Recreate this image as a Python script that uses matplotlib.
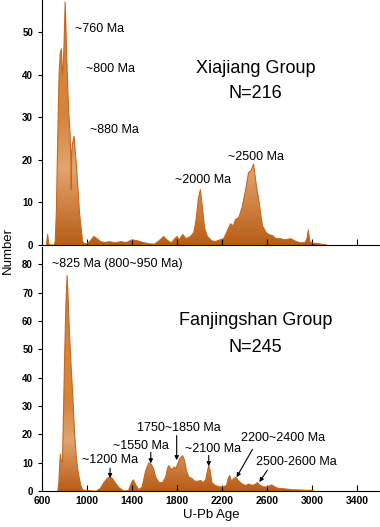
import numpy as np
import matplotlib.pyplot as plt
from matplotlib.colors import LinearSegmentedColormap

plt.rcParams['font.family'] = ['Liberation Sans', 'DejaVu Sans']

# Xiajiang Group probability curve (age Ma, number)
xj_age = [640, 650, 660, 670, 710, 718, 728, 740, 752, 762, 772, 780, 788, 796, 806, 812, 820, 830, 840,
          850, 856, 860, 864, 872, 886, 895, 905, 915, 925, 935, 948, 960, 975, 1000, 1030, 1060, 1090, 1120,
          1160, 1200, 1250, 1300, 1350, 1400, 1450, 1500, 1550, 1600, 1640, 1680, 1720, 1750, 1780, 1800,
          1820, 1850, 1880, 1920, 1950, 1970, 1990, 2008, 2025, 2045, 2070, 2110, 2140, 2180, 2215, 2250,
          2276, 2300, 2320, 2350, 2380, 2410, 2436, 2460, 2480, 2495, 2510, 2525, 2545, 2560, 2590, 2612,
          2650, 2680, 2720, 2760, 2810, 2860, 2900, 2940, 2955, 2967, 2980, 3000, 3060, 3130]
xj_num = [0, 2.5, 0.3, 0, 0, 1, 8, 25, 40, 45, 46, 40, 42, 47, 57, 52, 44, 36, 30,
          26, 20, 13, 22, 24, 25.5, 22, 19, 15, 11, 7, 4, 1, 0.3, 0.3, 1, 2, 1.5, 0.8,
          0.6, 0.8, 0.5, 0.8, 0.6, 1.2, 1.0, 0.6, 0.3, 0.2, 1, 2, 1, 0.5, 1.5, 2.0,
          1.2, 2.5, 1.5, 2, 3, 6, 11, 13, 9, 4, 2, 1, 0.8, 1.2, 1.5, 3.5,
          5, 4.5, 6, 6.5, 9, 13, 17, 17.5, 19, 16, 13, 11, 7, 4.5, 3, 2.5,
          2.2, 1.5, 1.5, 1.2, 1.5, 0.8, 0.5, 0.6, 1.5, 3.5, 0.8, 0.5, 0.3, 0]

# Fanjingshan Group probability curve
fj_age = [740, 750, 758, 764, 770, 782, 790, 800, 812, 823, 830, 845, 860, 873, 890, 905, 920, 930, 945,
          960, 980, 1000, 1040, 1080, 1120, 1150, 1180, 1205, 1225, 1250, 1290, 1330, 1370, 1395,
          1412, 1430, 1460, 1490, 1520, 1550, 1570, 1590, 1610, 1640, 1670, 1700, 1715, 1728, 1750, 1775,
          1790, 1805, 1825, 1850, 1865, 1885, 1905, 1930, 1960, 1990, 2010, 2030, 2055, 2070, 2082, 2095,
          2110, 2140, 2180, 2210, 2240, 2255, 2268, 2285, 2305, 2325, 2350, 2380, 2410, 2440, 2470, 2500,
          2515, 2540, 2570, 2600, 2640, 2670, 2700, 2760, 2820, 2900, 2960, 3000, 3020]
fj_num = [0, 3, 10, 13, 11, 10, 25, 45, 65, 76, 70, 55, 43, 34, 20, 12, 7, 5, 2,
          0.5, 0.3, 0.3, 0.1, 0, 1, 3, 4.5, 5, 4.5, 3, 1, 0, 0.3, 3,
          4, 2.5, 0.5, 1.5, 7, 10, 9.5, 8, 5, 3, 3, 5, 8, 9, 7.5, 8.5,
          8, 9.5, 11.5, 12.5, 11, 7, 5, 4.5, 3.5, 3.5, 3.8, 3, 4, 7, 9, 7,
          3, 2, 1.5, 1.5, 2, 4.5, 5.5, 3.5, 4.5, 4.8, 3.5, 2.5, 2, 2.5, 2, 2.5,
          3, 2, 1.5, 1.5, 2.2, 1.5, 1, 0.8, 0.5, 0.4, 0.3, 0.3, 0]

xticks = [600, 1000, 1400, 1800, 2200, 2600, 3000, 3400]


def draw_curve(ax, age, num, top):
    # shading: dark at the base, light around 18, medium orange above 30
    cmap = LinearSegmentedColormap.from_list('ochre', [(0, '#B85D16'), (18 / top, '#E3A46E'),
                                                       (30 / top, '#D6853F'), (1, '#D3803A')])
    poly = ax.fill_between(age, 0, num, color='none', lw=0)
    grad = np.linspace(0, 1, 256).reshape(-1, 1)
    im = ax.imshow(grad, cmap=cmap, extent=(600, 3600, 0, top), origin='lower',
                   aspect='auto', zorder=1)
    im.set_clip_path(poly.get_paths()[0], transform=ax.transData)
    ax.plot(age, num, color='#C6661C', lw=0.8, zorder=2)


def style(ax, top, ystep):
    ax.set_xlim(600, 3604)
    ax.set_ylim(0, top)
    ax.set_xticks(xticks)
    ax.set_yticks(np.arange(0, top, ystep))
    for s in ['top', 'right']:
        ax.spines[s].set_visible(False)
    ax.tick_params(axis='x', direction='in', length=4, width=0.8, labelsize=7.5)
    ax.tick_params(axis='y', direction='out', length=3, width=0.8, labelsize=7)
    for lab in ax.get_xticklabels() + ax.get_yticklabels():
        lab.set_fontweight('bold')


fig = plt.figure(figsize=(3.8, 5.27), dpi=100)
ax1 = fig.add_axes([0.1105, 0.535, 0.8895, 0.465])
ax2 = fig.add_axes([0.1105, 0.068, 0.8895, 0.463])

draw_curve(ax1, xj_age, xj_num, 57.5)
style(ax1, 57.5, 10)
ax1.set_xticklabels([])

draw_curve(ax2, fj_age, fj_num, 86)
style(ax2, 86, 10)
ax2.set_xlabel('U-Pb Age', fontsize=9.5, labelpad=2)

fs = 9
ax1.text(1111, 50.7, '~760 Ma', fontsize=fs, ha='center', va='center')
ax1.text(1213, 41.4, '~800 Ma', fontsize=fs, ha='center', va='center')
ax1.text(1248, 27.1, '~880 Ma', fontsize=fs, ha='center', va='center')
ax1.text(2028, 15.2, '~2000 Ma', fontsize=fs, ha='center', va='center')
ax1.text(2501, 20.6, '~2500 Ma', fontsize=fs, ha='center', va='center')
ax1.text(2497, 41.4, 'Xiajiang Group', fontsize=13, ha='center', va='center')
ax1.text(2497, 35.5, 'N=216', fontsize=13, ha='center', va='center')

ax2.text(1270, 80, '~825 Ma (800~950 Ma)', fontsize=fs, ha='center', va='center')
ax2.text(2497, 60, 'Fanjingshan Group', fontsize=13, ha='center', va='center')
ax2.text(2497, 50.5, 'N=245', fontsize=13, ha='center', va='center')

arrow = dict(arrowstyle='-|>', color='black', lw=0.8, mutation_scale=6, shrinkA=0, shrinkB=0)
# (label, text x, text y, arrow start, arrow tip)
notes = [
    ('~1200 Ma', 1205, 10.9, (1205, 8.1), (1205, 4.6)),
    ('~1550 Ma', 1483, 16.0, (1567, 13.7), (1567, 9.8)),
    ('1750~1850 Ma', 1815, 22.4, (1797, 19.6), (1797, 10.9)),
    ('~2100 Ma', 2117, 15.0, (2082, 12.6), (2082, 8.8)),
    ('2200~2400 Ma', 2739, 18.6, (2470, 14.7), (2329, 4.9)),
    ('2500-2600 Ma', 2864, 10.2, (2603, 7.4), (2532, 3.2)),
]
for lab, tx, ty, a0, a1 in notes:
    ax2.text(tx, ty, lab, fontsize=fs, ha='center', va='center')
    ax2.annotate('', xy=a1, xytext=a0, arrowprops=arrow)

fig.text(8 / 380, 1 - 250 / 527, 'Number', rotation=90, fontsize=9.5, ha='center', va='center')

fig.savefig('out.png', dpi=100)
